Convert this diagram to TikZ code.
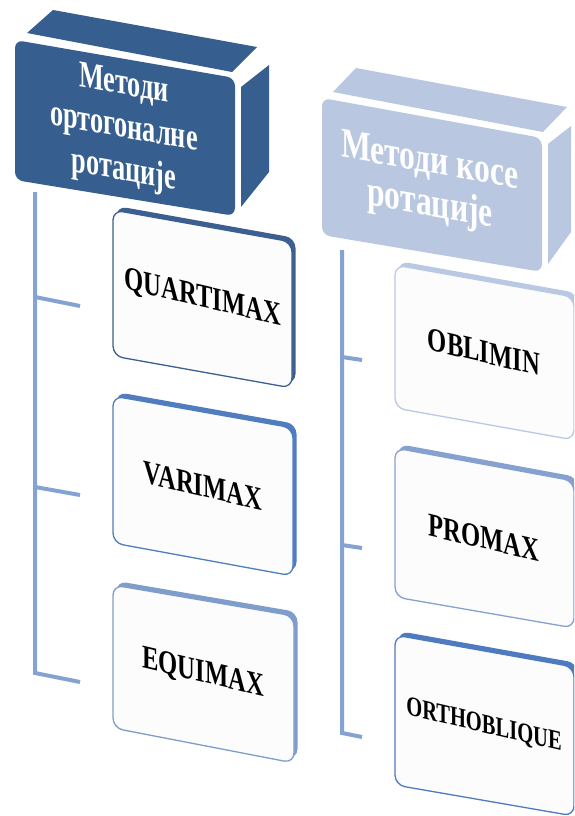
\documentclass[tikz,border=0pt]{standalone}
\usepackage{fontspec}
\setmainfont{Liberation Serif}
\definecolor{hdark}{HTML}{365F8F}
\definecolor{hlight}{HTML}{B9C8E0}
\definecolor{conn}{HTML}{84A2D2}
\definecolor{bq}{HTML}{3B5F8E}
\definecolor{bv}{HTML}{4F7DBD}
\definecolor{be}{HTML}{7F9DCB}
\definecolor{bo}{HTML}{B9C9E4}
\definecolor{bp}{HTML}{86A1CF}
\definecolor{bor}{HTML}{4E7BBF}
\definecolor{cfill}{HTML}{FCFCFC}
\tikzset{
  boxedge/.style={fill=#1, rounded corners=10pt},
  boxface/.style={fill=cfill, draw=#1, line width=1.3pt, rounded corners=10pt},
  ctext/.style={font=\bfseries\fontsize{30}{32}\selectfont, text=black, xscale=0.82, yscale=1.1, yslant=-0.175, inner sep=0pt},
  htext/.style={font=\bfseries\fontsize{#1}{41}\selectfont, text=white, align=center, yscale=1.05, yslant=-0.17, inner sep=0pt},
  connline/.style={draw=conn, line width=4pt, line join=miter},
  hface/.style={fill=#1, rounded corners=8pt},
  hside/.style={fill=#1}
}
\begin{document}
\begin{tikzpicture}[x=1pt,y=-1pt]
\useasboundingbox (0,0) rectangle (574,816);
\clip (0,0) rectangle (574,816);

% ---------- header 1 (dark) ----------
\path[hside=hdark] (27,33) -- (53,10) -- (257,47) -- (232,72) -- cycle;
\path[hside=hdark] (241,87) -- (269,65) -- (269,172) -- (241,207) -- cycle;
\path[hface=hdark] (15,40) -- (235,78) -- (235,216) -- (15,180) -- cycle;
\node[htext=36, xscale=0.73] (h1) at (124,129) {Методи\\ортогоналне\\ротације};

% ---------- header 2 (light) ----------
\path[hside=hlight] (333,92) -- (356,68) -- (567,107) -- (543,132) -- cycle;
\path[hside=hlight] (548,144) -- (571,126) -- (571,232) -- (548,264) -- cycle;
\path[hface=hlight] (322,98) -- (542,138) -- (542,272) -- (322,235) -- cycle;
\node[htext=40, xscale=0.79] (h2) at (430,185) {Методи косе\\ротације};

% ---------- connectors ----------
\coordinate (lt) at (35,192);
\coordinate (la) at (35,297);
\coordinate (lb) at (35,487);
\coordinate (lc) at (35,673);
\coordinate (l1) at (80,306);
\coordinate (l2) at (80,495);
\coordinate (l3) at (80,682);
\draw[connline] (lt) -- (lc) -- (l3);
\draw[connline] (la) -- (l1);
\draw[connline] (lb) -- (l2);

\coordinate (rt) at (342,250);
\coordinate (ra) at (342,357);
\coordinate (rb) at (342,545);
\coordinate (rc) at (342,733);
\coordinate (r1) at (362,360);
\coordinate (r2) at (362,548);
\coordinate (r3) at (362,737);
\draw[connline] (rt) -- (rc) -- (r3);
\draw[connline] (ra) -- (r1);
\draw[connline] (rb) -- (r2);

% ---------- left children ----------
\path[boxedge=bq, shift={(3.5,-4)}] (113,210) -- (292,242) -- (292,388) -- (113,356) -- cycle;
\path[boxface=bq] (113,210) -- (292,242) -- (292,388) -- (113,356) -- cycle;
\node[ctext] (q) at (203,299) {QUARTIMAX};

\path[boxedge=bv, shift={(3.5,-4)}] (113,396) -- (293,428) -- (293,576) -- (113,543) -- cycle;
\path[boxface=bv] (113,396) -- (293,428) -- (293,576) -- (113,543) -- cycle;
\node[ctext] (v) at (203,486) {VARIMAX};

\path[boxedge=be, shift={(3.5,-4)}] (113,585) -- (294,616) -- (294,763) -- (113,728) -- cycle;
\path[boxface=be] (113,585) -- (294,616) -- (294,763) -- (113,728) -- cycle;
\node[ctext] (e) at (203,674) {EQUIMAX};

% ---------- right children ----------
\path[boxedge=bo, shift={(3.5,-4)}] (395,265) -- (574,297) -- (574,440) -- (395,408) -- cycle;
\path[boxface=bo] (395,265) -- (574,297) -- (574,440) -- (395,408) -- cycle;
\node[ctext] (o) at (484,352) {OBLIMIN};

\path[boxedge=bp, shift={(3.5,-4)}] (395,448) -- (574,481) -- (574,628) -- (395,597) -- cycle;
\path[boxface=bp] (395,448) -- (574,481) -- (574,628) -- (395,597) -- cycle;
\node[ctext] (p) at (484,538) {PROMAX};

\path[boxedge=bor, shift={(3.5,-4)}] (395,635) -- (574,667) -- (574,816) -- (395,785) -- cycle;
\path[boxface=bor] (395,635) -- (574,667) -- (574,816) -- (395,785) -- cycle;
\node[ctext, font=\bfseries\fontsize{25}{27}\selectfont] (ob) at (484,726) {ORTHOBLIQUE};
\end{tikzpicture}
\end{document}
